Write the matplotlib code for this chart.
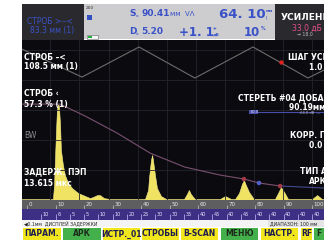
import matplotlib

matplotlib.use("Agg")
import matplotlib.pyplot as plt
import numpy as np
from matplotlib.patches import Rectangle

plt.rcParams["font.family"] = ["Liberation Sans Narrow", "DejaVu Sans"]

W, H = 324, 241

# A-scan echo envelope: depth (mm) / amplitude (%)
echo_x = [-1.8, 9.1, 9.5, 9.8, 10.2, 10.5, 10.9, 11.2, 11.6, 11.9, 12.6, 13.3, 14.4,
          15.8, 17.9, 20.4, 22.1, 23.2, 24.6, 25.6, 27.0, 29.1,
          41.4, 42.5, 42.8, 43.5, 43.9, 44.2, 44.9, 45.6, 47.0, 48.8,
          55.1, 56.1, 56.8, 57.5, 58.9,
          67.7, 69.5, 71.6,
          73.0, 74.4, 75.4, 76.1, 76.8, 77.9, 79.6,
          87.0, 88.1, 89.1, 90.2, 91.6,
          100.0, 101.8, 103.5, 104.5]
echo_y = [0, 0, 8.8, 24.5, 43.4, 56.0, 59.7, 58.5, 46.5, 30.8, 21.4, 15.1, 10.1,
          6.9, 3.8, 1.9, 0.6, 1.3, 2.5, 2.5, 0.6, 0,
          0, 5.7, 13.2, 24.5, 27.7, 24.5, 15.1, 6.9, 1.9, 0,
          0, 3.1, 5.7, 3.1, 0,
          0, 1.9, 0,
          0, 3.8, 9.4, 11.9, 8.8, 4.4, 0,
          0, 3.8, 7.5, 4.4, 0,
          0, 2.5, 0, 0]

# DAC curve
dac_x = [-1.8, 11.6, 20.4, 31.6, 43.2, 55.4, 67.7, 76.1, 81.4, 88.8]
dac_y = [59.7, 59.7, 52.2, 41.5, 28.9, 20.1, 15.1, 12.6, 10.1, 8.2]
dac_tail_x = [88.8, 104.5]
dac_tail_y = [8.2, 6.9]
dac_pts_x = [76.1, 81.4, 88.8]
dac_pts_y = [12.6, 10.1, 8.2]
dac_pts_c = ["#a03848", "#5060c8", "#a03848"]

# TCG zig-zag line and its active point
tcg_x = [-1.8, 19.3, 39.3, 58.9, 79.3, 98.6, 104.2]
tcg_y = [94.3, 76.7, 95.6, 76.1, 95.6, 76.1, 81.1]
tcg_pt = (89.1, 86.2)

ruler_ticks = list(range(0, 101, 10))
gain_pos = list(range(5, 101, 5))
gain_vals = [10, 6, 5, 5, 10, 10, 20, 25, 30, 30, 35, 40, 45, 40, 45, 40, 40, 40, 40, 40]

buttons = ["ПАРАМ.", "АРК", "ИСТР._01", "СТРОБЫ", "B-SCAN", "МЕНЮ", "НАСТР.", "RF", "F"]
button_green = [False, True, False, False, False, True, False, False, True]
button_x0 = [23, 63, 103, 142, 181, 221, 261, 301, 314]
button_x1 = [61, 101, 140, 179, 218, 258, 298, 312, 330]


def rect(x0, y0, x1, y1):
    return [x0 / W, 1 - y1 / H, (x1 - x0) / W, (y1 - y0) / H]


def px(x):
    return (x - 27) / 2.85


fig = plt.figure(figsize=(W / 100, H / 100), dpi=100, facecolor="white")

bg = fig.add_axes([0, 0, 1, 1])
bg.set_xlim(0, W)
bg.set_ylim(H, 0)
bg.axis("off")
for x0, y0, x1, y1, c in [(22, 4, 84, 40, "#2a2a2e"), (84, 4, 275, 39, "#cdcdcf"),
                          (275, 4, 324, 40, "#2a2a2e"), (22, 220, 324, 227, "#f4f4f4")]:
    bg.add_patch(Rectangle((x0, y0), x1 - x0, y1 - y0, color=c, lw=0))

# main A-scan
ax = fig.add_axes(rect(22, 40, 324, 200))
ax.set_facecolor("#0b0b0f")
ax.set_xlim(px(22), px(324))
ax.set_ylim(-0.6, 100)
ax.set_xticks(np.arange(8.2, 104, 10.2))
ax.set_yticks(np.arange(18.2, 100, 18.9))
ax.grid(color="#25252d", lw=0.6)
ax.tick_params(length=0, labelbottom=False, labelleft=False)
for s in ax.spines.values():
    s.set_visible(False)
ax.plot(tcg_x, tcg_y, color="#6c6c6c", lw=0.8)
ax.plot(*tcg_pt, "o", color="#e02424", ms=2.2)
ax.fill_between(echo_x, -0.6, echo_y, color="#f0e262", lw=0.4, edgecolor="#f6ec90")
ax.plot(dac_x, dac_y, color="#7a5070", lw=0.8)
ax.plot(dac_tail_x, dac_tail_y, color="#44488e", lw=0.8)
ax.scatter(dac_pts_x, dac_pts_y, c=dac_pts_c, s=5, zorder=3)

# depth ruler
ru = fig.add_axes(rect(22, 200, 324, 209))
ru.set_facecolor("#5e5e60")
ru.set_xlim(ax.get_xlim())
ru.set_ylim(0, 1)
ru.set_xticks(ruler_ticks)
ru.tick_params(axis="x", direction="in", length=3, color="#c8c8c8", width=0.5,
               labelbottom=False)
ru.set_yticks([])
for s in ru.spines.values():
    s.set_visible(False)
for t in ruler_ticks:
    ru.text(t + 0.6, 0.45, str(t), color="#e8e8e8", fontsize=4, va="center")

# gain strip
gs = fig.add_axes(rect(22, 209, 324, 220))
gs.set_facecolor("#3d2f84")
gs.set_xlim(ax.get_xlim())
gs.set_ylim(0, 1)
gs.set_xticks(gain_pos)
gs.tick_params(axis="x", direction="in", length=4, color="#c8c0ff", width=0.5,
               labelbottom=False)
gs.set_yticks([])
for s in gs.spines.values():
    s.set_visible(False)
for p, v in zip(gain_pos, gain_vals):
    gs.text(p + 0.6, 0.5, str(v), color="#e6e2ff", fontsize=3.6, va="center")

# overlay texts and buttons
ov = fig.add_axes([0, 0, 1, 1])
ov.set_xlim(0, W)
ov.set_ylim(H, 0)
ov.axis("off")
ov.patch.set_alpha(0)

blue = "#3a52c8"
ov.text(27, 21, "СТРОБ >--<", color=blue, fontsize=5.5, va="center")
ov.text(30, 30, "83.3 мм (1)", color=blue, fontsize=5.5, va="center")
ov.text(86, 8, "200", color="#333", fontsize=3.2, va="center")
ov.add_patch(Rectangle((87, 15), 5, 5, color="#3450c0", lw=0))
ov.add_patch(Rectangle((87, 35), 11, 3.5, facecolor="#f4f4f4", edgecolor="#666", lw=0.4))
ov.add_patch(Rectangle((87.5, 35.5), 4, 2.5, color="#20b040", lw=0))
ov.text(129, 14, "S", color=blue, fontsize=6.5, weight="bold", va="center")
ov.text(135.5, 16, "a", color=blue, fontsize=3.2, va="center")
ov.text(141, 14, "90.41", color=blue, fontsize=6.5, weight="bold", va="center")
ov.text(170, 14, "мм  VΛ", color=blue, fontsize=5, va="center")
ov.text(129, 32, "D", color=blue, fontsize=6.5, weight="bold", va="center")
ov.text(136, 34, "a", color=blue, fontsize=3.2, va="center")
ov.text(141, 32, "5.20", color=blue, fontsize=6.5, weight="bold", va="center")
ov.text(219, 15, "64. 10", color=blue, fontsize=9.5, weight="bold", va="center")
ov.text(266, 11, "мм", color=blue, fontsize=3.2, weight="bold", va="center")
ov.text(266, 17, "|", color=blue, fontsize=3.2, weight="bold", va="center")
ov.text(179, 32, "+1. 1", color=blue, fontsize=8.5, weight="bold", va="center")
ov.text(213, 29, "+", color=blue, fontsize=3.3, weight="bold", va="center")
ov.text(213, 34.5, "дБ", color=blue, fontsize=3.2, weight="bold", va="center")
ov.text(244, 32, "10", color=blue, fontsize=8.5, weight="bold", va="center")
ov.text(261, 29, "%", color=blue, fontsize=3.3, weight="bold", va="center")
ov.text(281, 18, "УСИЛЕНИЕ", color="white", fontsize=6.5, weight="bold", va="center")
ov.text(292, 28, "33.0 дБ", color="#e4508c", fontsize=5.5, va="center")
ov.text(297, 35, "→ 18.0", color="#bbbbbb", fontsize=3.3, va="center")

wt = dict(color="white", fontsize=5.5, weight="bold", va="center")
ov.text(24, 57, "СТРОБ –<", **wt)
ov.text(24, 67, "108.5 мм (1)", **wt)
ov.text(24, 94, "СТРОБ ‹", **wt)
ov.text(24, 104, "57.3 % (1)", **wt)
ov.text(24, 136, "BW", color="#8a8a8a", fontsize=5.5, va="center")
ov.text(24, 172, "ЗАДЕРЖ. ПЭП", **wt)
ov.text(24, 183, "13.615 мкс", **wt)
ov.text(288, 57, "ШАГ УСИЛЕНИЯ", **wt)
ov.text(309, 67, "1.0 дБ", **wt)
ov.text(238, 98, "СТЕРЕТЬ #04 ДОБАВИТЬ", **wt)
ov.text(289, 108, "90.19мм DAC", **wt)
ov.text(290, 135, "КОРР. ПЕРЕДАЧИ", **wt)
ov.text(309, 145, "0.0 дБ", **wt)
ov.text(300, 172, "ТИП АРК", **wt)
ov.text(309, 182, "АРК", **wt)

ov.plot([249, 324], [112, 112], color="#4a4ea8", lw=0.8)
ov.add_patch(Rectangle((249, 110), 9, 4, color="#4a52b0", lw=0))
ov.text(250.5, 112, "60.0", color="#dde", fontsize=2.6, va="center")
ov.text(299, 113.5, "-64.0 dB  ---", color="#bbb", fontsize=2.6, va="center")

ov.text(24, 223.5, "◀0.1мм  ДИСПЛЕЙ ЗАДЕРЖКИ", color="#222", fontsize=3.3, va="center")
ov.add_patch(Rectangle((268, 220), 56, 7, color="#e4e4e4", lw=0))
ov.text(270, 223.5, "ДИАПАЗОН: 100 мм", color="#222", fontsize=3.3, va="center")

for lab, g, x0, x1 in zip(buttons, button_green, button_x0, button_x1):
    ov.add_patch(Rectangle((x0, 228), x1 - x0, 12, color="#44b04c" if g else "#f2e61c", lw=0))
    ov.text((x0 + x1) / 2 if lab != "F" else x0 + 2, 234, lab,
            color="#1c2a1c" if g else "#1c1c50", fontsize=5.5, weight="bold",
            ha="center" if lab != "F" else "left", va="center")

fig.savefig("out.png", dpi=100)
